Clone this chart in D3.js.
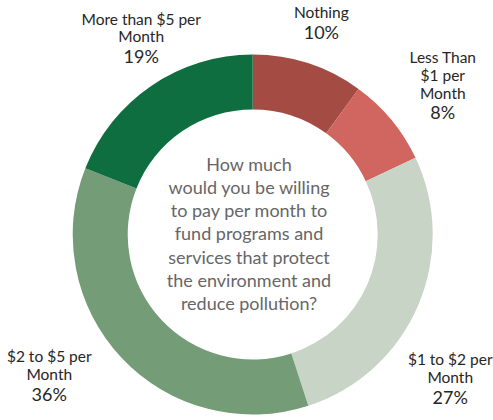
<!DOCTYPE html>
<html>
<head>
<meta charset="utf-8">
<script src="https://cdn.jsdelivr.net/npm/d3@7"></script>
<style>
  html, body { margin: 0; padding: 0; background: #fff; }
  svg { display: block; font-family: Lato, "Open Sans", sans-serif; }
</style>
</head>
<body>
<svg id="chart" width="493" height="420"></svg>
<script>
// Survey answers, clockwise from 12 o'clock
const categories = [
  ["Nothing"],
  ["Less Than", "$1 per", "Month"],
  ["$1 to $2 per", "Month"],
  ["$2 to $5 per", "Month"],
  ["More than $5 per", "Month"]
];
const shares = [10, 8, 27, 36, 19];
const colors = ["#A44B44", "#D0665F", "#C8D4C6", "#739C77", "#0E6E40"];
const question = [
  "How much",
  "would you be willing",
  "to pay per month to",
  "fund programs and",
  "services that protect",
  "the environment and",
  "reduce pollution?"
];

// Label placement: angular nudge (deg) from the slice middle and distance from centre
const labelNudge = [
  { dAngle: 0.45, r: 217 },
  { dAngle: 2.6,  r: 238 },
  { dAngle: 13.8, r: 248 },
  { dAngle: 7.35, r: 251 },
  { dAngle: 3.9,  r: 221 }
];

const width = 493, height = 420;
const cx = 252.7, cy = 234.5;
const outerR = 180, innerR = 125;

const svg = d3.select("#chart");
const g = svg.append("g").attr("transform", `translate(${cx},${cy})`);

const pie = d3.pie().sort(null).value(d => d)(shares);
const arc = d3.arc().innerRadius(innerR).outerRadius(outerR);

g.selectAll("path.slice")
  .data(pie)
  .join("path")
  .attr("class", "slice")
  .attr("d", arc)
  .attr("fill", (d, i) => colors[i]);

// Outside labels: category lines then the percentage
const lineH = 17.7, pctGap = 20.5;
pie.forEach((d, i) => {
  const mid = (d.startAngle + d.endAngle) / 2 + labelNudge[i].dAngle * Math.PI / 180;
  const r = labelNudge[i].r;
  const x = r * Math.sin(mid);
  const y = -r * Math.cos(mid);
  const lines = categories[i];
  const span = (lines.length - 1) * lineH + pctGap;
  const firstBase = y - span / 2;
  const t = g.append("text")
    .attr("text-anchor", "middle")
    .attr("fill", "#262626");
  lines.forEach((ln, k) => {
    t.append("tspan")
      .attr("x", x)
      .attr("y", firstBase + k * lineH)
      .attr("font-size", 15.5)
      .text(ln);
  });
  t.append("tspan")
    .attr("x", x)
    .attr("y", firstBase + (lines.length - 1) * lineH + pctGap)
    .attr("font-size", 18)
    .text(d3.format(".0f")(d.data) + "%");
});

// Question in the hole
const qLine = 23.2;
const qText = g.append("text")
  .attr("text-anchor", "middle")
  .attr("fill", "#666666")
  .attr("font-size", 18);
question.forEach((ln, k) => {
  qText.append("tspan")
    .attr("x", -3.7)
    .attr("y", 170.7 - cy + k * qLine)
    .text(ln);
});
</script>
</body>
</html>
